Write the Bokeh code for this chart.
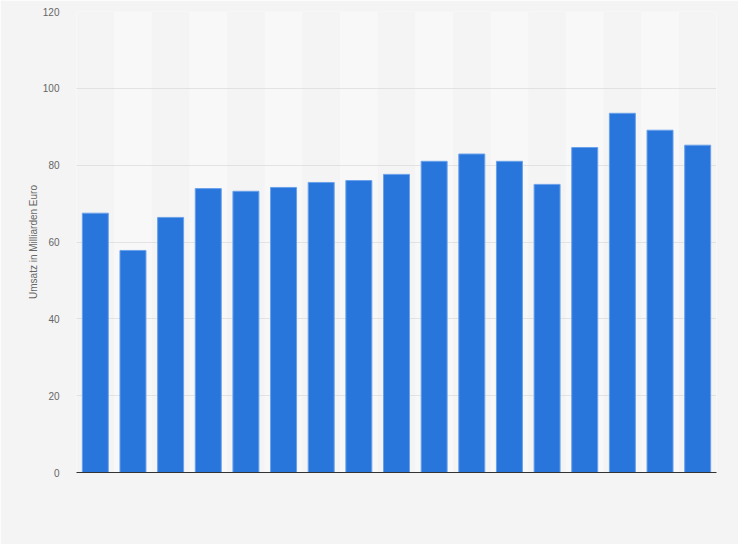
from bokeh.plotting import figure
from bokeh.models import Range1d, FactorRange, ColumnDataSource
from bokeh.embed import file_html
from bokeh.resources import INLINE

# Data
categories = [str(y) for y in range(2004, 2021)]
umsatz = [67.5, 57.8, 66.4, 73.9, 73.2, 74.2, 75.5, 76.0, 77.6,
          81.0, 82.9, 81.0, 75.0, 84.6, 93.5, 89.1, 85.2]
y_ticks = [0, 20, 40, 60, 80, 100, 120]
y_label = "Umsatz in Milliarden Euro"

BG = "#f4f4f4"
BAND = "#f8f8f8"

p = figure(
    width=738, height=544,
    x_range=FactorRange(factors=categories, range_padding=0),
    y_range=Range1d(0, 120),
    output_backend="svg", toolbar_location=None,
    background_fill_color=BG, border_fill_color=BG,
    min_border_left=76, min_border_right=22,
    min_border_top=11, min_border_bottom=72,
)
p.outline_line_color = None

# alternating column bands
band_cats = categories[1::2]
p.vbar(x=band_cats, top=[y_ticks[-1]] * len(band_cats), bottom=0, width=1.0,
       fill_color=BAND, line_color=None, level="underlay")

src = ColumnDataSource(dict(x=categories, top=umsatz))
p.vbar(x="x", top="top", source=src, width=0.69,
       fill_color="#2876dc", line_color="#6aa1ea", line_width=1)

# grid
p.xgrid.grid_line_color = None
p.ygrid.grid_line_color = "#cfcfcf"
p.ygrid.grid_line_dash = "1 1"
p.ygrid.grid_line_width = 1
p.ygrid.ticker = y_ticks
p.ygrid.level = "underlay"

# y axis
p.yaxis.ticker = y_ticks
p.yaxis.axis_line_color = None
p.yaxis.major_tick_line_color = None
p.yaxis.minor_tick_line_color = None
p.yaxis.major_label_standoff = 11
p.yaxis.major_label_text_font = "Liberation Sans"
p.yaxis.major_label_text_font_size = "10px"
p.yaxis.major_label_text_color = "#666666"
p.yaxis.axis_label = y_label
p.yaxis.axis_label_text_font = "Liberation Sans"
p.yaxis.axis_label_text_font_size = "10px"
p.yaxis.axis_label_text_font_style = "normal"
p.yaxis.axis_label_text_color = "#666666"
p.yaxis.axis_label_standoff = 1

# x axis (baseline only, labels hidden)
p.xaxis.axis_line_color = "#333333"
p.xaxis.axis_line_width = 1
p.xaxis.major_tick_line_color = None
p.xaxis.minor_tick_line_color = None
p.xaxis.major_label_text_color = None
p.xaxis.major_label_text_font_size = "1px"

html = file_html(p, INLINE)
html = html.replace("<body>", '<body style="background:#f4f4f4">', 1)
open("out.html", "w").write(html)
